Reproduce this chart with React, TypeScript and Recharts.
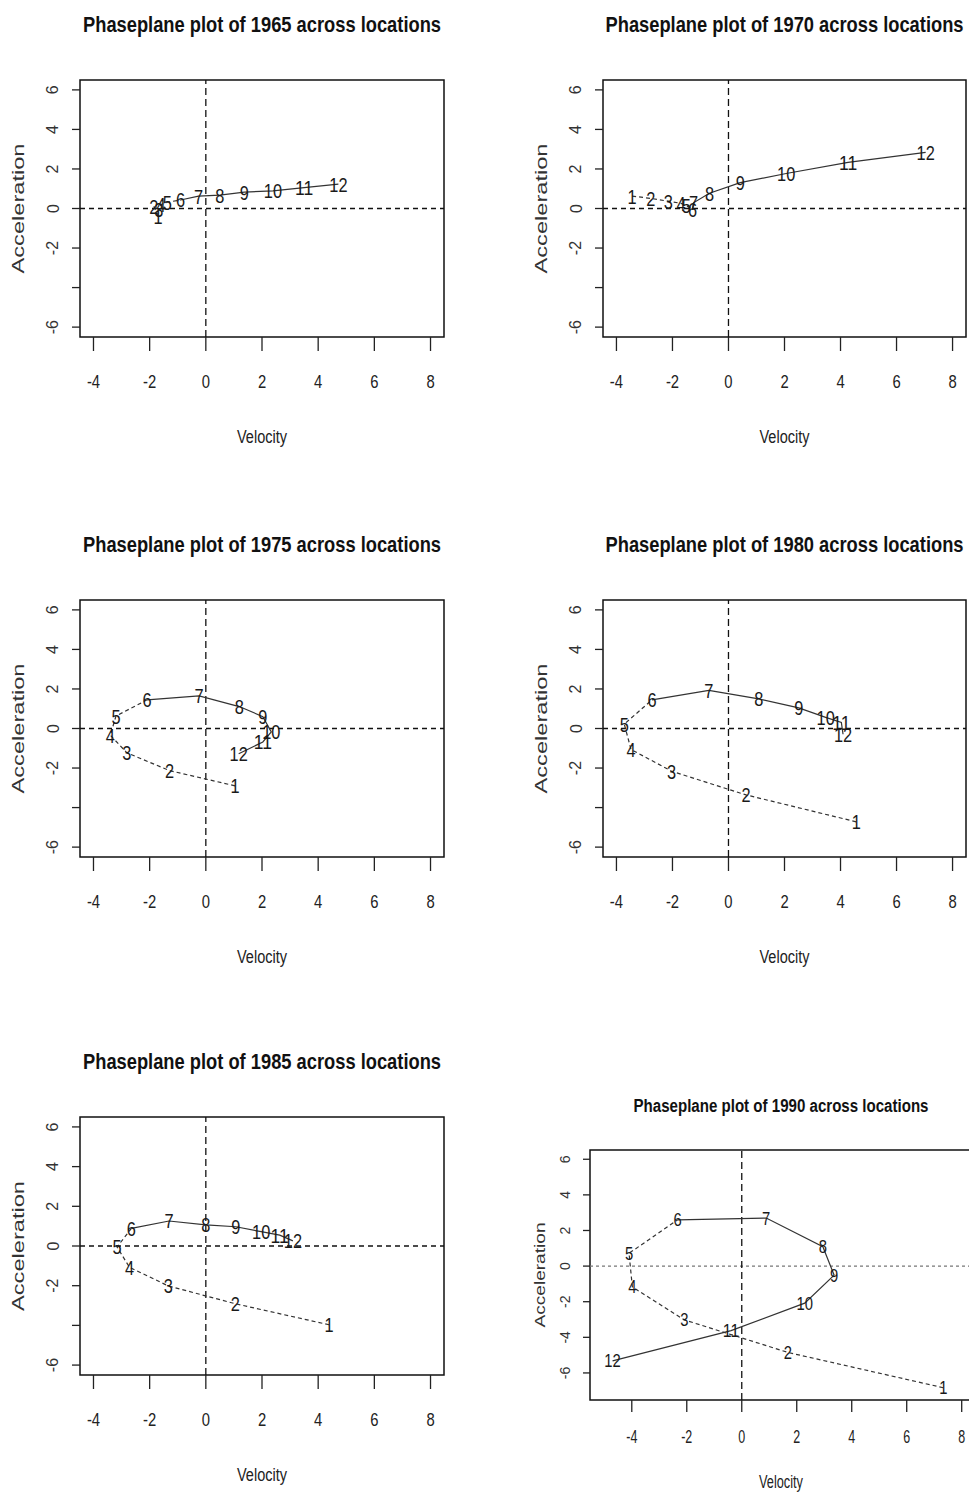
import { ScatterChart, Scatter, XAxis, YAxis, ReferenceLine, ReferenceArea } from 'recharts';

// Month index, axis ticks
const MONTHS = [1, 2, 3, 4, 5, 6, 7, 8, 9, 10, 11, 12];
const X_TICKS = [-4, -2, 0, 2, 4, 6, 8];
const Y_TICKS = [-6, -4, -2, 0, 2, 4, 6];

// Velocity / acceleration per month
const VEL_1965 = [-1.7, -1.85, -1.67, -1.59, -1.37, -0.9, -0.26, 0.5, 1.37, 2.39, 3.5, 4.72];
const ACC_1965 = [-0.4, 0.12, -0.05, 0.2, 0.32, 0.43, 0.63, 0.68, 0.83, 0.89, 1.06, 1.23];

const VEL_1970 = [-3.44, -2.77, -2.15, -1.69, -1.51, -1.28, -1.25, -0.68, 0.42, 2.06, 4.27, 7.04];
const ACC_1970 = [0.63, 0.51, 0.37, 0.26, 0.15, -0.05, 0.29, 0.77, 1.31, 1.77, 2.33, 2.84];

const VEL_1975 = [1.04, -1.29, -2.81, -3.4, -3.2, -2.09, -0.24, 1.19, 2.03, 2.33, 2.03, 1.17];
const ACC_1975 = [-2.9, -2.13, -1.23, -0.34, 0.63, 1.45, 1.65, 1.11, 0.6, -0.17, -0.68, -1.28];

const VEL_1980 = [4.56, 0.63, -2.03, -3.48, -3.72, -2.73, -0.7, 1.08, 2.51, 3.47, 4.03, 4.09];
const ACC_1980 = [-4.72, -3.36, -2.16, -1.06, 0.22, 1.45, 1.93, 1.5, 1.04, 0.56, 0.31, -0.29];

const VEL_1985 = [4.39, 1.05, -1.34, -2.72, -3.16, -2.65, -1.31, 0, 1.07, 1.97, 2.63, 3.1];
const ACC_1985 = [-3.97, -2.91, -2.01, -1.07, -0.05, 0.89, 1.26, 1.06, 0.97, 0.72, 0.55, 0.26];

const VEL_1990 = [7.33, 1.68, -2.09, -3.98, -4.1, -2.33, 0.89, 2.95, 3.36, 2.29, -0.39, -4.7];
const ACC_1990 = [-6.83, -4.85, -3.02, -1.17, 0.72, 2.6, 2.7, 1.09, -0.51, -2.08, -3.62, -5.32];

const SANS = "'Liberation Sans', Arial, sans-serif";

// no Arial Narrow here, so squeeze Liberation Sans to roughly its width
const charW = (c: string) => (c === '-' ? 0.333 : 0.556);
const narrowLen = (s: string, fs: number) =>
  s.split('').reduce((a, c) => a + charW(c), 0) * fs * 0.78;

const DASHED_TO = 6; // first months drawn dashed
const AX_W = 80;
const AX_H = 70;
const PAD = 4;

type Box = { x: number; y: number; w: number; h: number };

interface Spec {
  year: string;
  vel: number[];
  acc: number[];
  box: Box;
  xDomain: [number, number];
  yDomain: [number, number];
  small?: boolean;
}

const BIG_X: [number, number] = [-4.48, 8.48];
const BIG_Y: [number, number] = [-6.5, 6.5];

const PANELS: Spec[] = [
  { year: '1965', vel: VEL_1965, acc: ACC_1965, box: { x: 80, y: 80, w: 364, h: 257 }, xDomain: BIG_X, yDomain: BIG_Y },
  { year: '1970', vel: VEL_1970, acc: ACC_1970, box: { x: 603, y: 80, w: 363, h: 257 }, xDomain: BIG_X, yDomain: BIG_Y },
  { year: '1975', vel: VEL_1975, acc: ACC_1975, box: { x: 80, y: 600, w: 364, h: 257 }, xDomain: BIG_X, yDomain: BIG_Y },
  { year: '1980', vel: VEL_1980, acc: ACC_1980, box: { x: 603, y: 600, w: 363, h: 257 }, xDomain: BIG_X, yDomain: BIG_Y },
  { year: '1985', vel: VEL_1985, acc: ACC_1985, box: { x: 80, y: 1117, w: 364, h: 258 }, xDomain: BIG_X, yDomain: BIG_Y },
  { year: '1990', vel: VEL_1990, acc: ACC_1990, box: { x: 590, y: 1150, w: 386, h: 250 }, xDomain: [-5.52, 8.52], yDomain: [-7.52, 6.52], small: true },
];

const Panel = ({ spec }: { spec: Spec }) => {
  const { vel, acc, box, xDomain, yDomain, small } = spec;
  const pts = MONTHS.map((m, i) => ({ m, x: vel[i], y: acc[i] }));
  const early = pts.filter((p) => p.m <= DASHED_TO);
  const late = pts.filter((p) => p.m >= DASHED_TO);

  const xFont = 19;
  const yFont = small ? 14 : 16;
  const mFont = small ? 19 : 21;

  const xTick = (props: any) => {
    const s = String(props.payload.value);
    return (
      <text
        x={props.x}
        y={props.y}
        textAnchor="middle"
        fontFamily={SANS}
        fontSize={xFont}
        textLength={narrowLen(s, small ? 16 : xFont)}
        lengthAdjust="spacingAndGlyphs"
        fill="#222"
      >
        {s}
      </text>
    );
  };
  const yTick = (props: any) => {
    const v = props.payload.value;
    if (!small && v === -4) return <g />;
    return (
      <text
        x={props.x}
        y={props.y}
        transform={`rotate(-90 ${props.x} ${props.y})`}
        textAnchor="middle"
        dominantBaseline="central"
        fontFamily={SANS}
        fontSize={yFont}
        fill="#333"
      >
        {v}
      </text>
    );
  };
  const monthLabel = (props: any) => {
    const s = String(props.payload.m);
    return (
      <text
        x={props.cx}
        y={props.cy}
        textAnchor="middle"
        dominantBaseline="central"
        fontFamily={SANS}
        fontSize={mFont}
        textLength={narrowLen(s, mFont)}
        lengthAdjust="spacingAndGlyphs"
        fill="#1a1a1a"
      >
        {s}
      </text>
    );
  };

  return (
    <div style={{ position: 'absolute', left: box.x - AX_W, top: box.y - PAD }}>
      <ScatterChart
        width={AX_W + box.w + PAD}
        height={PAD + box.h + AX_H}
        margin={{ top: PAD, right: PAD, bottom: 0, left: 0 }}
      >
        <XAxis
          type="number"
          dataKey="x"
          domain={xDomain}
          allowDataOverflow
          ticks={X_TICKS}
          interval={0}
          height={AX_H}
          axisLine={false}
          tickLine={{ stroke: '#222', strokeWidth: 1.3 }}
          tickSize={small ? 12 : 14}
          tickMargin={small ? 31 : 37}
          tick={xTick}
        />
        <YAxis
          type="number"
          dataKey="y"
          domain={yDomain}
          allowDataOverflow
          ticks={Y_TICKS}
          interval={0}
          width={AX_W}
          axisLine={false}
          tickLine={{ stroke: '#222', strokeWidth: 1.3 }}
          tickSize={small ? 7 : 8}
          tickMargin={small ? 18 : 19}
          tick={yTick}
        />
        <ReferenceArea
          x1={xDomain[0]}
          x2={xDomain[1]}
          y1={yDomain[0]}
          y2={yDomain[1]}
          fill="none"
          fillOpacity={0}
          stroke="#111"
          strokeWidth={1.5}
          ifOverflow="visible"
        />
        <ReferenceLine
          y={0}
          stroke={small ? '#777' : '#111'}
          strokeWidth={1.3}
          strokeDasharray={small ? '3 3' : '5 4'}
        />
        <ReferenceLine x={0} stroke="#111" strokeWidth={1.3} strokeDasharray="7 4" />
        <Scatter
          data={early}
          line={{ stroke: '#333', strokeWidth: 1.2, strokeDasharray: '4 3' }}
          shape={() => <g />}
          isAnimationActive={false}
        />
        <Scatter
          data={late}
          line={{ stroke: '#333', strokeWidth: 1.2 }}
          shape={() => <g />}
          isAnimationActive={false}
        />
        <Scatter data={pts} shape={monthLabel} isAnimationActive={false} />
      </ScatterChart>
    </div>
  );
};

const Labels = ({ spec }: { spec: Spec }) => {
  const { box, small, year } = spec;
  const cx = box.x + (small ? 191 : box.w / 2);
  const cy = box.y + box.h / 2;
  const accX = box.x - (small ? 51 : 62);
  return (
    <g>
      <text
        x={cx}
        y={box.y - (small ? 38 : 48)}
        textAnchor="middle"
        fontFamily={SANS}
        fontWeight="bold"
        fontSize={small ? 18 : 22}
        textLength={small ? 295 : 358}
        lengthAdjust="spacingAndGlyphs"
        fill="#111"
      >
        {`Phaseplane plot of ${year} across locations`}
      </text>
      <text
        x={cx}
        y={box.y + box.h + (small ? 88 : 106)}
        textAnchor="middle"
        fontFamily={SANS}
        fontSize={18}
        textLength={small ? 44 : 50}
        lengthAdjust="spacingAndGlyphs"
        fill="#222"
      >
        Velocity
      </text>
      <text
        x={accX}
        y={cy}
        transform={`rotate(-90 ${accX} ${cy})`}
        textAnchor="middle"
        dominantBaseline="central"
        fontFamily={SANS}
        fontSize={small ? 15 : 17}
        textLength={small ? 105 : 130}
        lengthAdjust="spacingAndGlyphs"
        fill="#333"
      >
        Acceleration
      </text>
    </g>
  );
};

export default function App() {
  return (
    <div
      style={{
        position: 'absolute',
        left: 0,
        top: 0,
        width: 969,
        height: 1495,
        overflow: 'hidden',
        background: '#fff',
      }}
    >
      {PANELS.map((p) => (
        <Panel key={p.year} spec={p} />
      ))}
      <svg
        width={969}
        height={1495}
        style={{ position: 'absolute', left: 0, top: 0, pointerEvents: 'none' }}
      >
        {PANELS.map((p) => (
          <Labels key={p.year} spec={p} />
        ))}
      </svg>
    </div>
  );
}
